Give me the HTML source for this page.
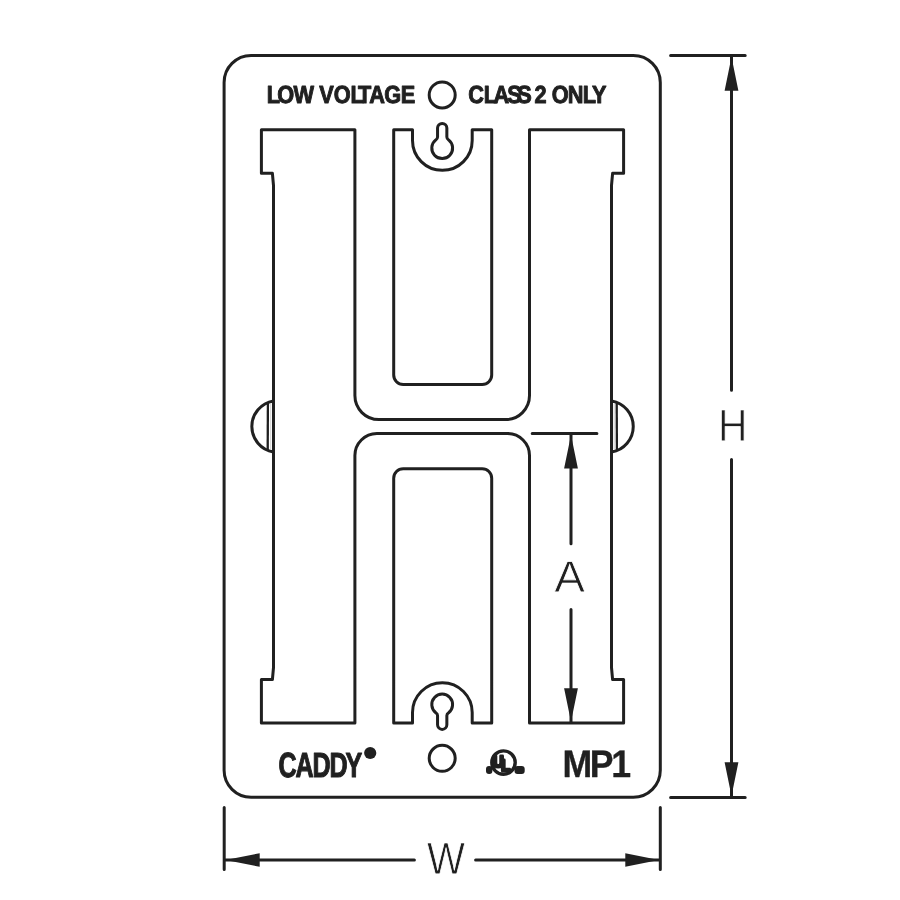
<!DOCTYPE html>
<html lang="en">
<head>
<meta charset="utf-8">
<title>CADDY MP1 Low Voltage Mounting Plate</title>
<style>
  html, body { margin: 0; padding: 0; background: #ffffff; }
  body { width: 900px; height: 900px; overflow: hidden; }
  svg { display: block; }
  .ln { fill: none; stroke: #231f20; stroke-width: 3.0; stroke-linejoin: round; stroke-linecap: butt; }
  .dim { fill: none; stroke: #231f20; stroke-width: 3.0; stroke-linecap: round; }
  .ah { fill: #231f20; stroke: none; }
  .thin { fill: none; stroke: #231f20; stroke-width: 1; }
  text { font-family: "Liberation Sans", sans-serif; fill: #231f20; text-rendering: geometricPrecision; }
  .txt { will-change: transform; filter: grayscale(1); }
  .b { font-weight: 700; stroke: #231f20; stroke-width: 1.0; stroke-linejoin: round; }
  .c { font-weight: 700; stroke: #231f20; stroke-width: 1.1; stroke-linejoin: round; }
  .m { font-weight: 700; stroke: #231f20; stroke-width: 0.3; stroke-linejoin: round; }
  .u { font-weight: 700; stroke: #231f20; stroke-width: 2.9; stroke-linejoin: round; }
  .lt { font-weight: 400; stroke: #ffffff; stroke-width: 0.8; stroke-linejoin: miter; paint-order: fill stroke; }
</style>
</head>
<body>
<svg class="txt" width="900" height="900" viewBox="0 0 900 900">
  <rect x="0" y="0" width="900" height="900" fill="#ffffff"/>

  <!-- outer plate -->
  <rect class="ln" x="224.1" y="55.5" width="436.2" height="741.8" rx="27" ry="27"/>
  <!-- H shaped opening -->
  <path class="ln" d="M261.4,129.8 H354.9 V395.6 A24,24 0 0 0 378.9,419.6 H505.5 A24,24 0 0 0 529.5,395.6 V129.8 H623.6 V173.3 H612.6 L611.5,185.5 V667.5 L612.6,679.6 H623.6 V723.1 H529.5 V455.5 A22,22 0 0 0 507.5,433.5 H376.9 A22,22 0 0 0 354.9,455.5 V723.1 H261.4 V679.6 H272.4 L273.5,667.5 V185.5 L272.4,173.3 H261.4 Z"/>
  <!-- side bumps -->
  <path class="ln" d="M273.5,400.9 A25.9,25.9 0 0 0 273.5,452"/>
  <path class="ln" style="stroke-width:2.3" d="M267.9,403 L267.7,450"/>
  <path d="M270.6,404 V449" fill="none" stroke="#d9d9d9" stroke-width="1.2"/>
  <path class="ln" d="M611.6,400.9 A25.9,25.9 0 0 1 611.6,452"/>
  <path class="ln" style="stroke-width:2.3" d="M616.7,403 L616.9,450"/>
  <path d="M614.2,404 V449" fill="none" stroke="#d9d9d9" stroke-width="1.2"/>
  <!-- centre slots -->
  <path class="ln" d="M393.7,129.8 H412.5 V140.5 A29.85,29.85 0 0 0 472.2,140.5 V129.8 H491.7 V375 A9.5,9.5 0 0 1 482.2,384.5 H403.2 A9.5,9.5 0 0 1 393.7,375 Z"/>
  <path class="ln" d="M403.2,468.7 H482.2 A9.5,9.5 0 0 1 491.7,478.2 V723.1 H472.2 V712.6 A29.85,29.85 0 0 0 412.5,712.6 V723.1 H393.7 V478.2 A9.5,9.5 0 0 1 403.2,468.7 Z"/>
  <!-- keyholes -->
  <path class="ln" stroke-linejoin="round" d="M437.55,137.00 V128.05 A4.65,4.65 0 0 1 446.85,128.05 V137.00 Q446.85,138.80 448.60,139.90 A10.40,10.40 0 1 1 435.80,139.90 Q437.55,138.80 437.55,137.00 Z"/>
  <path class="ln" stroke-linejoin="round" d="M437.55,715.60 V724.75 A4.65,4.65 0 0 0 446.85,724.75 V715.60 Q446.85,713.80 448.60,712.70 A10.40,10.40 0 1 0 435.80,712.70 Q437.55,713.80 437.55,715.60 Z"/>
  <!-- round holes -->
  <circle class="ln" cx="442.2" cy="94.9" r="13"/>
  <circle class="ln" cx="442.2" cy="758.3" r="13"/>
  <!-- plate lettering -->
  <text class="b" transform="translate(0,102.70) scale(0.8800,1)" x="302.99 315.09 333.44 345.79 362.78 379.24 398.33 406.84 419.74 436.70 455.49" y="0" font-size="24.70">LOW VOLTAGE</text>
  <text class="b" transform="translate(0,102.70) scale(0.8800,1)" x="532.00 549.81 560.77 576.54 587.90 600.25 607.41 619.76 627.13 645.28 662.31 672.78" y="0" font-size="24.70">CLASS 2 ONLY</text>
  <text class="c" transform="translate(0,776.70) scale(0.7200,1)" x="386.76 410.35 434.18 457.79 479.74" y="0" font-size="34.90">CADDY</text>
  <circle cx="370.2" cy="753" r="6.1" fill="#231f20"/>
  <text class="m" transform="translate(0,776.80) scale(0.9300,1)" x="604.93 634.18 657.38" y="0" font-size="38.40">MP1</text>
  <!-- UL listing mark -->
  <g>
    <circle cx="503.5" cy="762.6" r="11.7" fill="none" stroke="#231f20" stroke-width="3.4"/>
    <text class="u" transform="scale(0.92,1)" x="535.8 544.9" y="766.7 770.5" font-size="15.9">UL</text>
    <rect x="486" y="765.9" width="6.4" height="8" rx="3" fill="#231f20"/>
    <rect x="514.5" y="765.9" width="10.2" height="8.2" rx="3" fill="#231f20"/>
  </g>
  <!-- dimension H -->
  <path class="dim" d="M670.6,55.5 H745.2 M670.6,797.4 H745.2 M731.5,56.5 V390.2 M731.5,459.6 V796.5"/>
  <path class="ah" d="M731.5,57 L738.4,90.8 H724.6 Z M731.5,796 L738.4,762.3 H724.6 Z"/>
  <text class="lt" transform="translate(0,441.20) scale(0.9000,1)" x="797.84" y="0" font-size="45.20">H</text>
  <!-- dimension A -->
  <path class="dim" d="M532.2,433.4 H596.9 M571,434.5 V543.8 M571,609.4 V722"/>
  <path class="ah" d="M571,435 L577.9,468.5 H564.1 Z M571,721.8 L577.9,688.2 H564.1 Z"/>
  <text class="lt" transform="translate(0,592.30) scale(1.0400,1)" x="532.87" y="0" font-size="44.40">A</text>
  <!-- dimension W -->
  <path class="dim" d="M224.2,807.6 V869.6 M660.3,807.6 V869.6 M225.5,860 H414.4 M475.6,860 H659"/>
  <path class="ah" d="M225.5,860 L259.7,853.2 V866.8 Z M659,860 L625.3,853.2 V866.8 Z"/>
  <text class="lt" transform="translate(0,874.30) scale(0.8900,1)" x="479.88" y="0" font-size="45.20">W</text>
</svg>
</body>
</html>
